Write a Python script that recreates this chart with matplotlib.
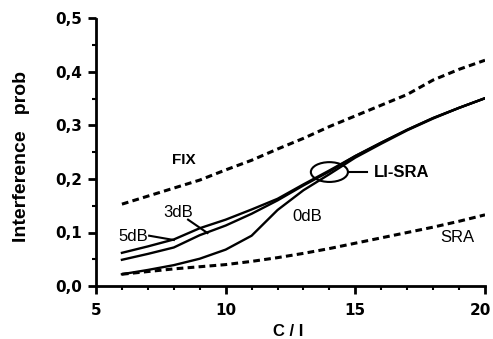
import matplotlib
matplotlib.use("Agg")
import matplotlib.pyplot as plt
import matplotlib.transforms as mtransforms
from matplotlib.patches import Ellipse
from matplotlib.ticker import MultipleLocator, FuncFormatter

plt.rcParams['font.family'] = ['Liberation Sans', 'DejaVu Sans']

x = [6, 7, 8, 9, 10, 11, 12, 13, 14, 15, 16, 17, 18, 19, 20]
fix = [0.153, 0.168, 0.183, 0.198, 0.217, 0.235, 0.256, 0.276, 0.298, 0.318, 0.338, 0.358, 0.385, 0.405, 0.422]
sra = [0.022, 0.027, 0.032, 0.036, 0.040, 0.046, 0.053, 0.061, 0.070, 0.080, 0.090, 0.100, 0.110, 0.121, 0.133]
db5 = [0.062, 0.074, 0.087, 0.108, 0.124, 0.143, 0.163, 0.190, 0.216, 0.243, 0.268, 0.292, 0.314, 0.333, 0.351]
db3 = [0.049, 0.060, 0.072, 0.095, 0.113, 0.135, 0.160, 0.188, 0.214, 0.243, 0.268, 0.292, 0.314, 0.333, 0.351]
db0 = [0.022, 0.030, 0.039, 0.051, 0.068, 0.094, 0.142, 0.179, 0.209, 0.240, 0.266, 0.291, 0.313, 0.333, 0.351]

W, H = 493, 339
fig = plt.figure(figsize=(W / 100, H / 100), dpi=100)
ax = fig.add_axes([96 / W, 1 - 286 / H, 389 / W, 267.5 / H])

dash = (0, (2.2, 1.4))
ax.plot(x, fix, color='black', lw=2.2, linestyle=dash)
ax.plot(x, sra, color='black', lw=2.2, linestyle=dash)
ax.plot(x, db5, color='black', lw=1.7)
ax.plot(x, db3, color='black', lw=1.7)
ax.plot(x, db0, color='black', lw=1.7)

ax.add_patch(Ellipse((14.0, 0.213), 1.43, 0.037, fill=False, color='black', lw=1.5))
ax.plot([14.72, 15.45], [0.213, 0.213], color='black', lw=1.5)

ax.text(8.4, 0.235, 'FIX', fontsize=11, fontweight='bold', ha='center', va='center')
ax.text(8.18, 0.137, '3dB', fontsize=12, ha='center', va='center')
ax.text(6.42, 0.092, '5dB', fontsize=12, ha='center', va='center')
ax.text(13.15, 0.129, '0dB', fontsize=12, ha='center', va='center')
ax.text(18.95, 0.090, 'SRA', fontsize=12, ha='center', va='center')
ax.text(15.72, 0.213, 'LI-SRA', fontsize=12, fontweight='bold', ha='left', va='center')
ax.plot([7.05, 8.0], [0.094, 0.086], color='black', lw=1.5)
ax.plot([8.55, 9.3], [0.124, 0.099], color='black', lw=1.5)

ax.set_xlim(5, 20)
ax.set_ylim(0, 0.5)
ax.xaxis.set_major_locator(MultipleLocator(5))
ax.xaxis.set_minor_locator(MultipleLocator(1))
ax.yaxis.set_major_locator(MultipleLocator(0.1))
ax.yaxis.set_minor_locator(MultipleLocator(0.05))
ax.yaxis.set_major_formatter(FuncFormatter(lambda v, p: f"{v:.1f}".replace('.', ',')))
for s in ['top', 'right']:
    ax.spines[s].set_visible(False)
for s in ['left', 'bottom']:
    ax.spines[s].set_linewidth(2.0)
ax.tick_params(which='major', length=6, width=2, direction='out', labelsize=11)
ax.tick_params(axis='x', which='major', pad=6)
ax.tick_params(axis='y', which='major', pad=4)
ax.tick_params(which='minor', length=3, width=1.5, direction='out')
for lab in ax.get_xticklabels() + ax.get_yticklabels():
    lab.set_fontweight('bold')
    lab.set_fontfamily('DejaVu Sans')

# nudge the "20" tick label so it stays inside the figure
locs = ax.xaxis.get_majorticklocs()
for loc, tk in zip(locs, ax.xaxis.get_major_ticks(len(locs))):
    if abs(loc - 20) < 1e-9:
        tk.label1.set_transform(tk.label1.get_transform() +
                                mtransforms.ScaledTranslation(-5 / 100, 0, fig.dpi_scale_trans))

fig.text(288 / W, 1 - 332 / H, 'C / I', fontsize=12, fontweight='bold', ha='center', va='center')
fig.text(22 / W, 1 - 157 / H, 'Interference   prob', fontsize=14, fontweight='bold',
         ha='center', va='center', rotation=90)

fig.savefig('out.png', dpi=100)
